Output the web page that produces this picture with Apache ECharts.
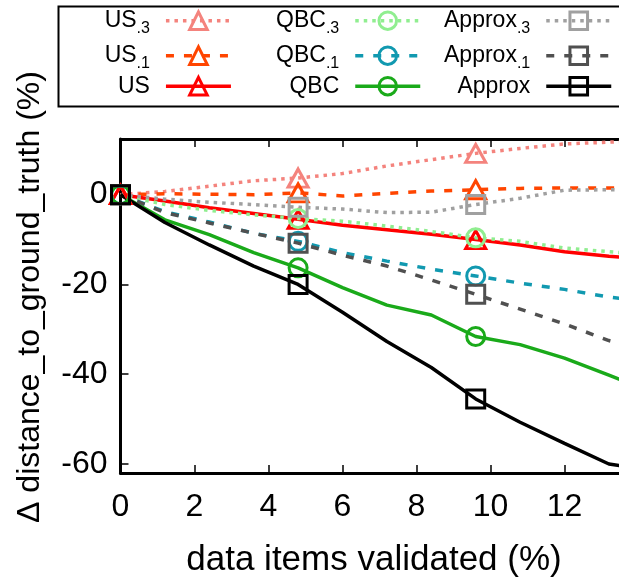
<!DOCTYPE html>
<html><head><meta charset="utf-8">
<script src="https://cdn.jsdelivr.net/npm/echarts@6/dist/echarts.min.js"></script>
<style>html,body{margin:0;padding:0;background:#fff}#c{width:619px;height:583px}</style>
</head><body><div id="c"></div>
<script>
// ---- data ----
const xValues = [0, 1.2, 2.4, 3.6, 4.8, 6.0, 7.2, 8.4, 9.6, 10.8, 12.0, 13.2, 14.4];
const markerIndex = [0, 4, 8, 12];
const us3 = [0, 0.7, 1.9, 3.1, 3.7, 4.7, 6.4, 7.8, 9.2, 10.3, 11.3, 11.7, 12.2];
const us1 = [0, 0.2, 0.1, 0.0, 0.4, -0.3, 0.3, 0.8, 1.1, 1.4, 1.5, 1.5, 1.6];
const us = [0, -1.4, -2.9, -4.2, -5.5, -6.8, -7.8, -8.8, -10.0, -11.2, -12.7, -13.7, -14.5];
const qbc3 = [0, -2.2, -3.5, -4.5, -5.3, -5.9, -7.0, -8.2, -9.6, -10.4, -11.9, -12.7, -13.5];
const qbc1 = [0, -3.8, -6.1, -8.6, -10.4, -12.9, -14.8, -16.6, -18.1, -19.7, -21.1, -22.8, -24.0];
const qbc = [0, -5.6, -8.9, -12.9, -16.3, -20.7, -24.6, -26.8, -31.6, -33.4, -36.4, -40.2, -44.0];
const approx3 = [0, -1.0, -1.7, -2.2, -2.8, -3.2, -4.0, -3.9, -2.2, -0.8, 1.0, 1.1, 1.2];
const approx1 = [0, -4.0, -6.3, -8.6, -10.8, -13.5, -15.9, -19.0, -22.2, -25.5, -28.8, -32.5, -35.0];
const approx = [0, -6.2, -11.2, -15.9, -20.0, -26.2, -32.7, -38.5, -45.5, -50.7, -55.4, -60.0, -61.5];
const xTicks = [0, 2, 4, 6, 8, 10, 12];
const yTicks = [0, -20, -40, -60];
const xTitle = 'data items validated (%)';
const yTitle = 'Δ distance_to_ground_truth (%)';
const legendCol1 = ['US.3', 'US.1', 'US'];
const legendCol2 = ['QBC.3', 'QBC.1', 'QBC'];
const legendCol3 = ['Approx.3', 'Approx.1', 'Approx'];

// ---- styles ----
const FONT = 'Liberation Sans';
const DOT = [3.5, 5];
const DASH = [8, 10];
const LW = 3.5;

function mkSeries(name, vals, color, dash, symbol, size) {
  return {
    name: name, type: 'line', symbol: symbol, symbolSize: size, showSymbol: true,
    data: xValues.map((x, i) => markerIndex.includes(i) ? [x, vals[i]] : { value: [x, vals[i]], symbol: 'none' }),
    lineStyle: { color: color, width: LW, type: dash, cap: 'butt' },
    itemStyle: { color: 'rgba(255,255,255,0)', borderColor: color, borderWidth: 3 },
    emphasis: { disabled: true }, clip: true, animation: false
  };
}

function mkLegend(names, right) {
  return {
    data: names, orient: 'vertical', align: 'right', right: right, top: 4.7, padding: 0,
    itemGap: 3, itemWidth: 65, itemHeight: 22, selectedMode: false,
    formatter: function (n) {
      const p = n.split('.');
      return p.length > 1 ? '{n|' + p[0] + '}{s|.' + p[1] + '}' : '{n|' + n + '}';
    },
    textStyle: {
      color: '#000', fontFamily: FONT, fontSize: 23, padding: [0, 11, 0, 0],
      rich: {
        n: { fontSize: 23, lineHeight: 32, fontFamily: FONT, color: '#000' },
        s: { fontSize: 16, lineHeight: 16, padding: [16, 0, 0, 0], fontFamily: FONT, color: '#000' }
      }
    },
    lineStyle: { width: LW }, itemStyle: { borderWidth: 3 }
  };
}

const chart = echarts.init(document.getElementById('c'), null, { renderer: 'canvas' });
chart.setOption({
  animation: false,
  backgroundColor: '#fff',
  textStyle: { fontFamily: FONT },
  grid: { left: 120.5, width: 518, top: 139, bottom: 110, containLabel: false, outerBoundsMode: 'none' },
  legend: [mkLegend(legendCol1, 386.3), mkLegend(legendCol2, 197), mkLegend(legendCol3, 6)],
  graphic: [{
    type: 'rect', left: 56, top: 4, silent: true,
    shape: { x: 0, y: 0, width: 600, height: 100 },
    style: { fill: 'none', stroke: '#000', lineWidth: 2 }
  }],
  xAxis: [{
    type: 'value', min: 0, max: 14,
    name: xTitle, nameLocation: 'middle', nameGap: 70,
    nameTextStyle: { fontSize: 35, color: '#000', fontFamily: FONT, padding: [0, 11, 0, 0] },
    axisLine: { onZero: false, lineStyle: { color: '#000', width: 3 } },
    axisTick: { inside: true, length: 8, lineStyle: { color: '#000', width: 1.5 }, customValues: xTicks },
    axisLabel: { fontSize: 32, color: '#000', margin: 18, fontFamily: FONT, customValues: xTicks },
    splitLine: { show: false }
  }, {
    type: 'value', min: 0, max: 14, position: 'top',
    axisLine: { onZero: false, lineStyle: { color: '#000', width: 3 } },
    axisTick: { inside: true, length: 8, lineStyle: { color: '#000', width: 1.5 }, customValues: xTicks },
    axisLabel: { show: false },
    splitLine: { show: false }
  }],
  yAxis: {
    type: 'value', min: -62, max: 12.4,
    name: yTitle, nameLocation: 'middle', nameGap: 74,
    nameTextStyle: { fontSize: 32, color: '#000', fontFamily: FONT, padding: [0, 0, 0, 18] },
    axisLine: { onZero: false, lineStyle: { color: '#000', width: 3 } },
    axisTick: { inside: true, length: 8, lineStyle: { color: '#000', width: 1.5 }, customValues: yTicks },
    axisLabel: { fontSize: 32, color: '#000', margin: 13, fontFamily: FONT, customValues: yTicks },
    splitLine: { show: false }
  },
  series: [
    mkSeries('US.3', us3, '#f4837d', DOT, 'triangle', [20, 18]),
    mkSeries('US.1', us1, '#ff4500', DASH, 'triangle', [20, 18]),
    mkSeries('US', us, '#ff0000', 'solid', 'triangle', [20, 18]),
    mkSeries('QBC.3', qbc3, '#90ee90', DOT, 'circle', 18),
    mkSeries('QBC.1', qbc1, '#1199b0', DASH, 'circle', 18),
    mkSeries('QBC', qbc, '#1aaa1a', 'solid', 'circle', 18),
    mkSeries('Approx.3', approx3, '#a0a0a0', DOT, 'rect', 18),
    mkSeries('Approx.1', approx1, '#505050', DASH, 'rect', 18),
    mkSeries('Approx', approx, '#000000', 'solid', 'rect', 18)
  ]
});
</script>
</body></html>
